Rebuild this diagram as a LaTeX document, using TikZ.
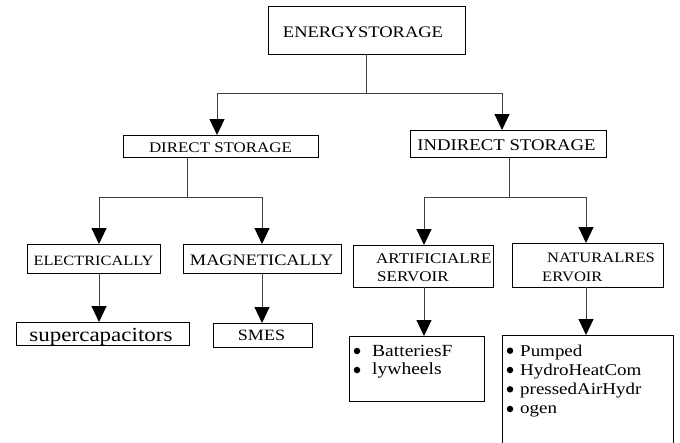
\documentclass[tikz,border=0pt]{standalone}
\usepackage{fontspec}
\setmainfont{Liberation Serif}[FakeStretch=1.15]
\usetikzlibrary{arrows.meta}
\newcommand\myfs[1]{\fontsize{#1}{#1}\selectfont}
\begin{document}
\begin{tikzpicture}[x=1pt,y=-1pt,
  box/.style={draw, line width=0.9pt, inner sep=0pt, outer sep=0pt},
  conn/.style={line width=1pt, draw=black!75},
  arr/.style={conn, -{Triangle[length=16pt,width=15pt,color=black]}},
  txt/.style={inner sep=0pt, anchor=base},
  ltxt/.style={inner sep=0pt, anchor=base west},
  dot/.style={fill, circle, inner sep=0pt, minimum size=6.5pt}]
\useasboundingbox (0,0) rectangle (680,442);
\clip (0,0) rectangle (680,442);
% boxes
\node[box, minimum width=197pt, minimum height=48pt] (es) at (366.5,30) {};
\node[box, minimum width=195pt, minimum height=22pt] (ds) at (220.5,146) {};
\node[box, minimum width=196pt, minimum height=27pt] (is) at (508,143.5) {};
\node[box, minimum width=133pt, minimum height=29pt] (el) at (93.5,258.5) {};
\node[box, minimum width=158pt, minimum height=29pt] (mg) at (262,258.5) {};
\node[box, minimum width=140pt, minimum height=42pt] (ar) at (423,266) {};
\node[box, minimum width=151pt, minimum height=44pt] (na) at (587.5,265) {};
\node[box, minimum width=173pt, minimum height=23pt] (sc) at (102.5,333.5) {};
\node[box, minimum width=99pt, minimum height=24pt] (sm) at (262.5,335) {};
\node[box, minimum width=135pt, minimum height=65pt] (ba) at (416.5,368.5) {};
\node[box, minimum width=171pt, minimum height=125pt] (nl) at (587.5,397.5) {};
% branch points
\coordinate (t1) at (366.5,93);
\coordinate (l1) at (217,93);
\coordinate (r1) at (502,93);
\coordinate (d0) at (187,197);
\coordinate (dl) at (99,197);
\coordinate (dr) at (262,197);
\coordinate (i0) at (509,197);
\coordinate (il) at (424,197);
\coordinate (ir) at (586,197);
% connectors
\draw[conn] (es.south) -- (t1);
\draw[arr] (t1) -- (l1) -- (l1 |- ds.north);
\draw[arr] (t1) -- (r1) -- (r1 |- is.north);
\draw[conn] (ds.south -| d0) -- (d0);
\draw[arr] (d0) -- (dl) -- (dl |- el.north);
\draw[arr] (d0) -- (dr) -- (dr |- mg.north);
\draw[conn] (is.south -| i0) -- (i0);
\draw[arr] (i0) -- (il) -- (il |- ar.north);
\draw[arr] (i0) -- (ir) -- (ir |- na.north);
\draw[arr] (el.south -| dl) -- (dl |- sc.north);
\draw[arr] (mg.south -| dr) -- (dr |- sm.north);
\draw[arr] (ar.south -| il) -- (il |- ba.north);
\draw[arr] (na.south -| ir) -- (ir |- nl.north);
% texts
\node[txt, font=\myfs{16.1}] (tes) at (363,37) {ENERGYSTORAGE};
\node[txt, font=\myfs{14.7}] (tds) at (220.5,152) {DIRECT STORAGE};
\node[txt, font=\myfs{16.3}] (tis) at (506.5,150.5) {INDIRECT STORAGE};
\node[txt, font=\myfs{14.2}] (tel) at (93.5,265) {ELECTRICALLY};
\node[txt, font=\myfs{15.9}] (tmg) at (261.7,265) {MAGNETICALLY};
\node[txt, font=\myfs{20}] (tsc) at (101,341) {supercapacitors};
\node[txt, font=\myfs{15.7}] (tsm) at (261.5,340) {SMES};
\node[ltxt, font=\myfs{14.8}] (tar1) at (376,263) {ARTIFICIALRE};
\node[ltxt, font=\myfs{14.8}] (tar2) at (377,281) {SERVOIR};
\node[ltxt, font=\myfs{14.4}] (tna1) at (547,262) {NATURALRES};
\node[ltxt, font=\myfs{14.4}] (tna2) at (542,281) {ERVOIR};
% battery list
\node[dot] (bd1) at (357,351) {};
\node[dot] (bd2) at (357,370) {};
\node[ltxt, font=\myfs{17}] (bt1) at (372,356) {BatteriesF};
\node[ltxt, font=\myfs{17}] (bt2) at (372,374) {lywheels};
% natural list
\node[dot] (nd1) at (510,350.7) {};
\node[dot] (nd2) at (510,370) {};
\node[dot] (nd3) at (510,389.3) {};
\node[dot] (nd4) at (510,409) {};
\node[ltxt, font=\myfs{16.5}] (nt1) at (520,356) {Pumped};
\node[ltxt, font=\myfs{16.5}] (nt2) at (520,375) {HydroHeatCom};
\node[ltxt, font=\myfs{16.5}] (nt3) at (520,394.5) {pressedAirHydr};
\node[ltxt, font=\myfs{16.5}] (nt4) at (520,413.5) {ogen};
\end{tikzpicture}
\end{document}
